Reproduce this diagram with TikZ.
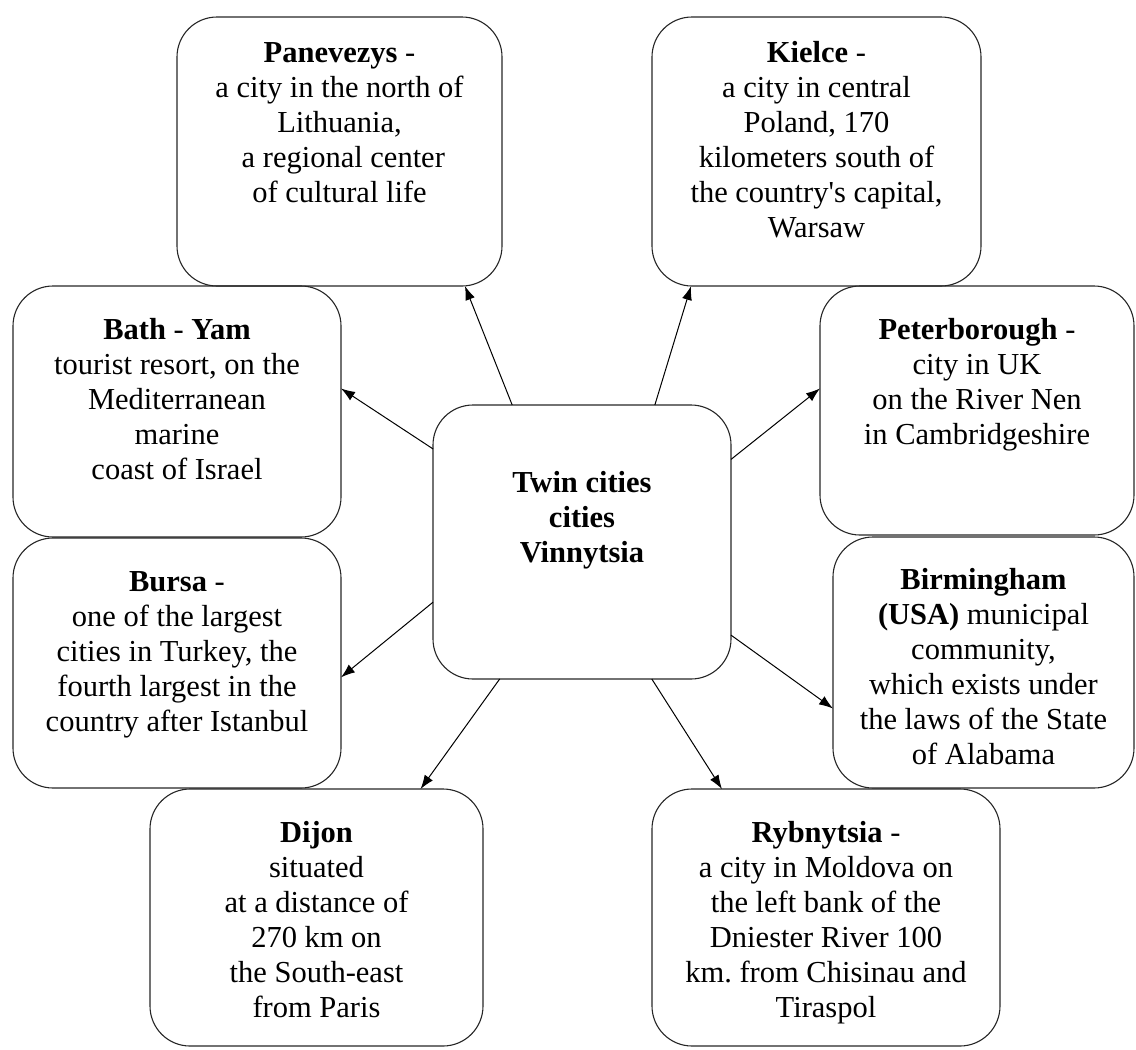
\documentclass[tikz,border=0pt]{standalone}
\usepackage{fontspec}
\setmainfont{Liberation Serif}[Ligatures=TeXOff]
\usetikzlibrary{arrows.meta,positioning}

\begin{document}
\begin{tikzpicture}[x=1pt,y=-1pt,
  cbox/.style={rectangle, draw=black!85, line width=1.1pt, rounded corners=40pt,
               inner sep=0pt, outer sep=0pt},
  ctext/.style={align=center, inner sep=0pt, font=\fontsize{30.5}{35}\selectfont},
  link/.style={draw=black, line width=1pt, -{Latex[length=14pt,width=10pt]}}]
\useasboundingbox (0,0) rectangle (1136,1050);

% boxes
\node[cbox, minimum width=325pt, minimum height=269pt] (pan) at (339.5,151.5) {};
\node[cbox, minimum width=329pt, minimum height=269pt] (kie) at (816.5,151.5) {};
\node[cbox, minimum width=328pt, minimum height=251pt] (bat) at (177,411.5) {};
\node[cbox, minimum width=314pt, minimum height=249pt] (pet) at (977,410.5) {};
\node[cbox, minimum width=298pt, minimum height=274pt] (ctr) at (582,542) {};
\node[cbox, minimum width=328pt, minimum height=250pt] (bur) at (177,663) {};
\node[cbox, minimum width=301pt, minimum height=251pt] (bir) at (983.5,662.5) {};
\node[cbox, minimum width=333pt, minimum height=257pt] (dij) at (316.5,917.5) {};
\node[cbox, minimum width=348pt, minimum height=257pt] (ryb) at (826,917.5) {};

% texts
\node[ctext, below=20.5pt of pan.north] (panT) {\strut\textbf{Panevezys} -\\
  a city in the north of\\ Lithuania,\\ \hspace*{0.25em}a regional center\\ of cultural life};
\node[ctext, below=20.5pt of kie.north] (kieT) {\strut\textbf{Kielce} -\\
  a city in central\\ Poland, 170\\ kilometers south of\\ the country's capital,\\ Warsaw};
\node[ctext, below=29pt of bat.north] (batT) {\strut\textbf{Bath} - \textbf{Yam}\\
  tourist resort, on the\\ Mediterranean\\ marine\\ coast of Israel};
\node[ctext, below=29pt of pet.north] (petT) {\strut\textbf{Peterborough} -\\
  city in UK\\ on the River Nen\\ in Cambridgeshire};
\node[ctext, below=62.5pt of ctr.north] (ctrT) {\strut\textbf{Twin cities}\\
  \textbf{cities}\\ \textbf{Vinnytsia}};
\node[ctext, below=28.5pt of bur.north] (burT) {\strut\textbf{Bursa} -\\
  one of the largest\\ cities in Turkey, the\\ fourth largest in the\\ country after Istanbul};
\node[ctext, below=27.5pt of bir.north] (birT) {\strut\textbf{Birmingham}\\
  \textbf{(USA)} municipal\\ community,\\ which exists under\\ the laws of the State\\ of Alabama};
\node[ctext, below=28.5pt of dij.north] (dijT) {\strut\textbf{Dijon}\\
  situated\\ at a distance of\\ 270 km on\\ the South-east\\ from Paris};
\node[ctext, below=28.5pt of ryb.north] (rybT) {\strut\textbf{Rybnytsia} -\\
  a city in Moldova on\\ the left bank of the\\ Dniester River 100\\ km.\ from Chisinau and\\ Tiraspol};

% connectors from the centre
\draw[link] (ctr.117.4) -- (pan.313.9);
\draw[link] (ctr.62.9)  -- (kie.227);
\draw[link] (ctr.148.9) -- (bat.8.2);
\draw[link] (ctr.29.4)  -- (pet.172.9);
\draw[link] (ctr.202.9) -- (bur.355.1);
\draw[link] (ctr.328.3) -- (bir.197.1);
\draw[link] (ctr.239.1) -- (dij.51.8);
\draw[link] (ctr.297.4) -- (ryb.129.4);
\end{tikzpicture}
\end{document}
